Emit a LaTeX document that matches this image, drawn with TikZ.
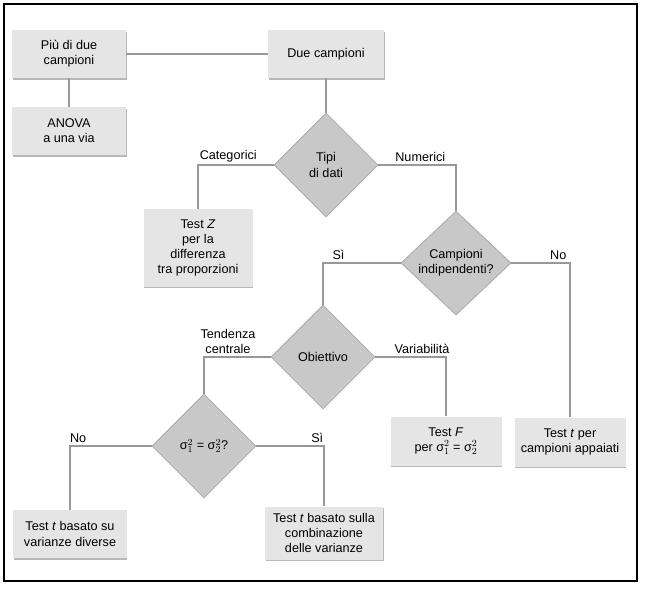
\documentclass[tikz,border=0pt]{standalone}
\usepackage{fontspec}
\setmainfont{Liberation Sans}
\usetikzlibrary{positioning,shapes.geometric,shadows}

\definecolor{linegray}{RGB}{152,152,152}
\definecolor{boxgray}{RGB}{229,229,229}
\definecolor{diagray}{RGB}{200,200,200}

\begin{document}
\begin{tikzpicture}[
			x=0.03cm, y=-0.03cm,
			every node/.style={
				font=\fontsize{10.8}{13}\selectfont,
				align=center
			},
			box/.style={
				fill=boxgray,
				inner sep=0pt,
				drop shadow={shadow xshift=0.7pt, shadow yshift=-1.3pt,
					fill=black!28, opacity=1}
			},
			decision/.style={
				diamond,
				fill=diagray,
				draw=diagray!85!black,
				line width=0.7pt,
				inner sep=0pt,
				minimum width=3.12cm,
				minimum height=3.12cm
			},
			link/.style={draw=linegray, line width=2.5pt},
			lbl/.style={above, inner sep=1.5pt}
			]
			
			\useasboundingbox (0,0) rectangle (651,594);
			\draw[line width=0.9pt] (4,4) rectangle (637,581);
			
			%--------------------------------------------------
			% Boxes
			%--------------------------------------------------
			
			\node[box, minimum width=3.42cm, minimum height=1.44cm] (piu) at (69,54) {Più di due\\campioni};
			
			\node[box, minimum width=3.48cm, minimum height=1.44cm] (due) at (326,54) {Due campioni};
			
			\node[box, minimum width=3.42cm, minimum height=1.44cm] (anova) at (69,131) {ANOVA\\a una via};
			
			\node[box, minimum width=3.27cm, minimum height=2.31cm] (testz) at (198,248) {Test \textit{Z}\\per la\\differenza\\tra proporzioni};
			
			\node[box, minimum width=3.33cm, minimum height=1.47cm] (testf) at (446,441) {Test \textit{F}\\per σ$^{2}_{1}$ = σ$^{2}_{2}$};
			
			\node[box, minimum width=3.33cm, minimum height=1.47cm] (appaiati) at (570,442) {Test \textit{t} per\\campioni appaiati};
			
			\node[box, minimum width=3.39cm, minimum height=1.44cm] (diverse) at (70,534) {Test \textit{t} basato su\\varianze diverse};
			
			\node[box, minimum width=3.54cm, minimum height=1.59cm] (comb) at (324,533) {Test \textit{t} basato sulla\\combinazione\\delle varianze};
			
			%--------------------------------------------------
			% Decisions
			%--------------------------------------------------
			
			\node[decision] (tipi) at (326,165) {Tipi\\di dati};
			
			\node[decision, minimum width=3.3cm] (indip) at (456,263) {Campioni\\indipendenti?};
			
			\node[decision] (obiettivo) at (323,357) {Obiettivo};
			
			\node[decision] (sigma) at (204,446) {σ$^{2}_{1}$ = σ$^{2}_{2}$?};
			
			%--------------------------------------------------
			% Flow
			%--------------------------------------------------
			
			\draw[link] (piu) -- (due);
			
			\draw[link] (piu) -- (anova);
			
			\draw[link] (due) -- (tipi);
			
			\draw[link]
			(tipi.west) -| node[lbl, pos=0.3]{Categorici} (testz.north);
			
			\draw[link]
			(tipi.east) -| node[lbl, pos=0.27]{Numerici} (indip.north);
			
			\draw[link]
			(indip.west) -| node[lbl, pos=0.4]{Sì} (obiettivo.north);
			
			\draw[link]
			(indip.east) -| node[lbl, pos=0.4]{No} (appaiati.north);
			
			\draw[link]
			(obiettivo.west) -| node[lbl, pos=0.32]{Tendenza\\centrale} (sigma.north);
			
			\draw[link]
			(obiettivo.east) -| node[lbl, pos=0.33]{Variabilità} (testf.north);
			
			\draw[link]
			(sigma.west) -| node[lbl, pos=0.45]{No} (diverse.north);
			
			\draw[link]
			(sigma.east) -| node[lbl, pos=0.45]{Sì} (comb.north);
			
		\end{tikzpicture}
\end{document}
